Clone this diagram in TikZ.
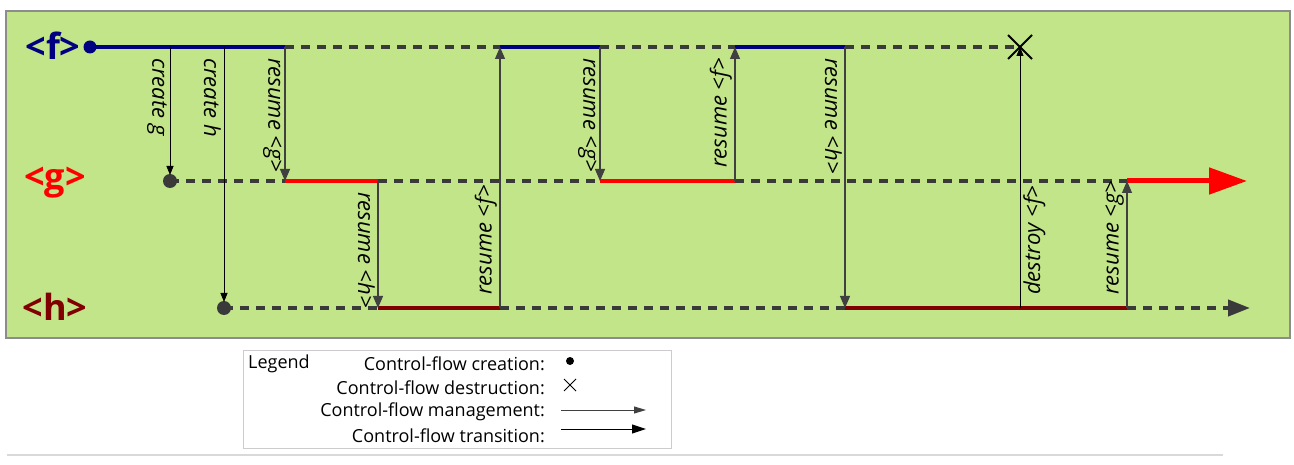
\documentclass[tikz,border=0pt]{standalone}
\usepackage{fontspec}
\setmainfont{Open Sans}
\usetikzlibrary{arrows.meta,calc}
\definecolor{bggreen}{RGB}{193,229,136}
\definecolor{fnavy}{RGB}{0,0,128}
\definecolor{hdark}{RGB}{128,0,0}
\definecolor{dashgray}{RGB}{58,58,58}
\tikzset{
  lanelbl/.style={font=\fontsize{36}{38}\selectfont\bfseries, inner sep=0pt},
  dashlane/.style={draw=dashgray, line width=4pt, dash pattern=on 9pt off 7pt},
  fseg/.style={draw=fnavy, line width=4pt},
  gseg/.style={draw=red, line width=4pt},
  hseg/.style={draw=hdark, line width=4pt},
  mgmt/.style={draw=black, line width=0.9pt, -{Triangle[length=9pt,width=7pt]}},
  trans/.style={draw=black!75, line width=1.1pt, -{Triangle[length=12pt,width=10pt]}},
  lblfont/.style={font=\fontsize{22}{24}\selectfont\itshape},
  lbldown/.style={lblfont, rotate=-90, anchor=north west, inner sep=1pt},
  lblup/.style={lblfont, rotate=90, anchor=south west, inner sep=1pt},
  lblupr/.style={lblfont, rotate=90, anchor=north west, inner sep=1pt},
  legtxt/.style={font=\fontsize{18}{20}\selectfont, inner sep=0pt},
}
\begin{document}
\begin{tikzpicture}[x=1pt,y=-1pt]
\useasboundingbox (0,0) rectangle (1294,465);
% background panel
\draw[fill=bggreen, draw=black!45, line width=1.5pt] (6,11) rectangle (1290,338);
\draw[draw=black!15, line width=2pt] (7,455) -- (1223,455);

% lane labels
\node[lanelbl, text=fnavy] (lf) at (53,46) {<f>};
\node[lanelbl, text=red] (lg) at (55,183) {<g>};
\node[lanelbl, text=hdark] (lh) at (55,307) {<h>};

% coordinates
\coordinate (f0) at (90,47);
\coordinate (fa) at (170,47);
\coordinate (fb) at (224,47);
\coordinate (f1) at (285,47);
\coordinate (f2) at (500,47);
\coordinate (f3) at (600,47);
\coordinate (f4) at (735,47);
\coordinate (f5) at (845,47);
\coordinate (fx) at (1020,47);

\coordinate (g0) at (170,181);
\coordinate (g0t) at (170,175);
\coordinate (g1) at (285,181);
\coordinate (g2) at (378,181);
\coordinate (g3) at (600,181);
\coordinate (g4) at (735,181);
\coordinate (g5) at (1127,181);
\coordinate (gend) at (1247,181);

\coordinate (h0) at (224,308);
\coordinate (h0t) at (224,302);
\coordinate (h1) at (378,308);
\coordinate (h2) at (500,308);
\coordinate (h3) at (845,308);
\coordinate (hd) at (1020,308);
\coordinate (h4) at (1127,308);
\coordinate (hend) at (1250,308);

% dashed (suspended) segments
\draw[dashlane] (f1) -- (f2);
\draw[dashlane] (f3) -- (f4);
\draw[dashlane] (f5) -- (fx);
\draw[dashlane] (g0) -- (g1);
\draw[dashlane] (g2) -- (g3);
\draw[dashlane] (g4) -- (g5);
\draw[dashlane] (h0) -- (h1);
\draw[dashlane] (h2) -- (h3);
\draw[dashlane, -{Triangle[length=22pt,width=16pt]}] (h4) -- (hend);

% active segments
\draw[fseg] (f0) -- (f1);
\draw[fseg] (f2) -- (f3);
\draw[fseg] (f4) -- (f5);
\draw[gseg] (g1) -- (g2);
\draw[gseg] (g3) -- (g4);
\draw[gseg, line width=5pt, -{Triangle[length=38pt,width=26pt]}] (g5) -- (gend);
\draw[hseg] (h1) -- (h2);
\draw[hseg] (h3) -- (h4);

% creation dots
\fill[fnavy] (f0) circle (6.5pt);
\fill[dashgray] (g0) circle (7pt);
\fill[dashgray] (h0) circle (7pt);

% destruction X
\coordinate (xa) at (1008,35);
\coordinate (xb) at (1032,59);
\coordinate (xc) at (1008,59);
\coordinate (xd) at (1032,35);
\draw[black, line width=2pt] (xa) -- (xb);
\draw[black, line width=2pt] (xc) -- (xd);

% management arrows
\draw[mgmt] (fa) -- (g0t);
\draw[mgmt] (fb) -- (h0t);
\draw[mgmt] (hd) -- (fx);

% transitions
\draw[trans] (f1) -- (g1);
\draw[trans] (g2) -- (h1);
\draw[trans] (h2) -- (f2);
\draw[trans] (f3) -- (g3);
\draw[trans] (g4) -- (f4);
\draw[trans] (f5) -- (h3);
\draw[trans] (h4) -- (g5);

% labels
\node[lbldown] (lcg) at ([xshift=-2pt,yshift=-10pt]fa) {create g};
\node[lbldown] (lch) at ([xshift=-2pt,yshift=-10pt]fb) {create h};
\node[lbldown] (lr1) at ([xshift=-2pt,yshift=-10pt]f1) {resume <g>};
\node[lbldown] (lr2) at ([xshift=-2pt,yshift=-10pt]g2) {resume <h>};
\node[lblup]   (lr3) at ([xshift=-2pt,yshift=12pt]h2) {resume <f>};
\node[lbldown] (lr4) at ([xshift=-2pt,yshift=-10pt]f3) {resume <g>};
\node[lblup]   (lr5) at ([xshift=-2pt,yshift=12pt]g4) {resume <f>};
\node[lbldown] (lr6) at ([xshift=-2pt,yshift=-10pt]f5) {resume <h>};
\node[lblupr]  (ld)  at ([xshift=2pt,yshift=12pt]hd) {destroy <f>};
\node[lblup]   (lr7) at ([xshift=-2pt,yshift=12pt]h4) {resume <g>};

% legend
\draw[draw=black!20, line width=1pt] (243,350) rectangle (671,448);
\node[legtxt, anchor=west] (leg) at (248,364) {Legend};
\node[legtxt, anchor=east] (l1) at (545,364) {Control-flow creation:};
\node[legtxt, anchor=east] (l2) at (545,388) {Control-flow destruction:};
\node[legtxt, anchor=east] (l3) at (545,412) {Control-flow management:};
\node[legtxt, anchor=east] (l4) at (545,436) {Control-flow transition:};
\fill[black] (570,361) circle (4pt);
\coordinate (lxa) at (564,379);
\coordinate (lxb) at (576,391);
\coordinate (lxc) at (564,391);
\coordinate (lxd) at (576,379);
\draw[black, line width=1pt] (lxa) -- (lxb);
\draw[black, line width=1pt] (lxc) -- (lxd);
\coordinate (la1) at (561,410);
\coordinate (lb1) at (646,410);
\coordinate (la2) at (561,429);
\coordinate (lb2) at (646,429);
\draw[black!75, line width=1pt, -{Triangle[length=12pt,width=7pt]}] (la1) -- (lb1);
\draw[black, line width=1pt, -{Triangle[length=14pt,width=9pt]}] (la2) -- (lb2);
\end{tikzpicture}
\end{document}
